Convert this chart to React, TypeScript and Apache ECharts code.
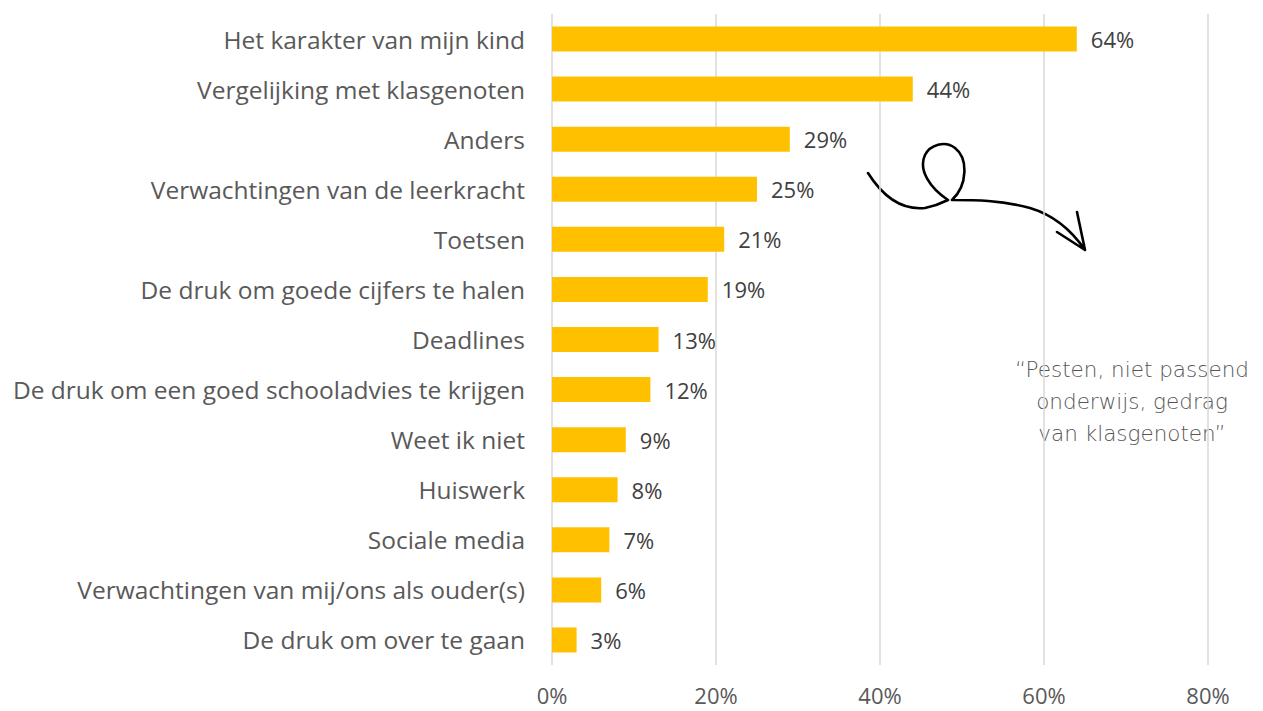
import React, { useEffect, useRef } from "react";
import * as echarts from "echarts";

const categories = [
  "Het karakter van mijn kind",
  "Vergelijking met klasgenoten",
  "Anders",
  "Verwachtingen van de leerkracht",
  "Toetsen",
  "De druk om goede cijfers te halen",
  "Deadlines",
  "De druk om een goed schooladvies te krijgen",
  "Weet ik niet",
  "Huiswerk",
  "Sociale media",
  "Verwachtingen van mij/ons als ouder(s)",
  "De druk om over te gaan",
];
const values = [64, 44, 29, 25, 21, 19, 13, 12, 9, 8, 7, 6, 3];
const quoteLines = ["\u201cPesten, niet passend", "onderwijs, gedrag", "van klasgenoten\u201d"];

const arrowPath =
  "M868,173 C885,200 905,210 925,208 C935,206 942,203 948,200 C930,188 918,170 925,155 C930,145 945,140 955,148 C968,158 968,185 952,200 C975,200 1000,200 1030,208 C1050,214 1070,228 1085,250 M1057,232 L1085,250 L1077,212";

let registered = false;

export default function App() {
  const ref = useRef<HTMLDivElement>(null);
  useEffect(() => {
    if (!ref.current) return;
    if (!registered) {
      echarts.graphic.registerShape("logo", echarts.graphic.extendPath(arrowPath, {}));
      registered = true;
    }
    const chart = echarts.init(ref.current, null, { renderer: "svg" });
    chart.setOption({
      animation: false,
      backgroundColor: "#ffffff",
      grid: { left: 552, right: 55, top: 14, bottom: 46, containLabel: false },
      xAxis: {
        type: "value",
        min: 0,
        max: 80,
        interval: 20,
        axisLabel: {
          formatter: "{value}%",
          fontFamily: "Open Sans",
          fontSize: 22,
          color: "#595959",
          margin: 19,
        },
        splitLine: { lineStyle: { color: "#d9d9d9", width: 1.5 } },
        axisLine: { show: false },
        axisTick: { show: false },
      },
      yAxis: {
        type: "category",
        data: categories,
        inverse: true,
        axisLabel: {
          fontFamily: "Open Sans",
          fontSize: 24.5,
          color: "#595959",
          margin: 27,
        },
        axisLine: { show: false },
        axisTick: { show: false },
      },
      series: [
        {
          type: "bar",
          data: values,
          barWidth: 25,
          itemStyle: { color: "#ffc000" },
          label: {
            show: true,
            position: "right",
            distance: 14,
            formatter: "{c}%",
            fontFamily: "Open Sans",
            fontSize: 22,
            color: "#404040",
          },
        },
      ],
      graphic: [
        {
          type: "logo",
          x: 0,
          y: 0,
          style: { fill: "none", stroke: "#000000", lineWidth: 2.6, lineCap: "round", lineJoin: "round" },
        },
        ...quoteLines.map((t, i) => ({
          type: "text",
          x: 1132,
          y: 369 + i * 32,
          style: {
            text: t,
            fontFamily: "DejaVu Sans",
            fontWeight: 200,
            fontSize: 21.5,
            fill: "#555555",
            textAlign: "center",
            textVerticalAlign: "middle",
          },
        })),
      ],
    });
    return () => chart.dispose();
  }, []);
  return (
    <div
      ref={ref}
      style={{ position: "absolute", left: 0, top: 0, width: 1263, height: 711 }}
    />
  );
}
